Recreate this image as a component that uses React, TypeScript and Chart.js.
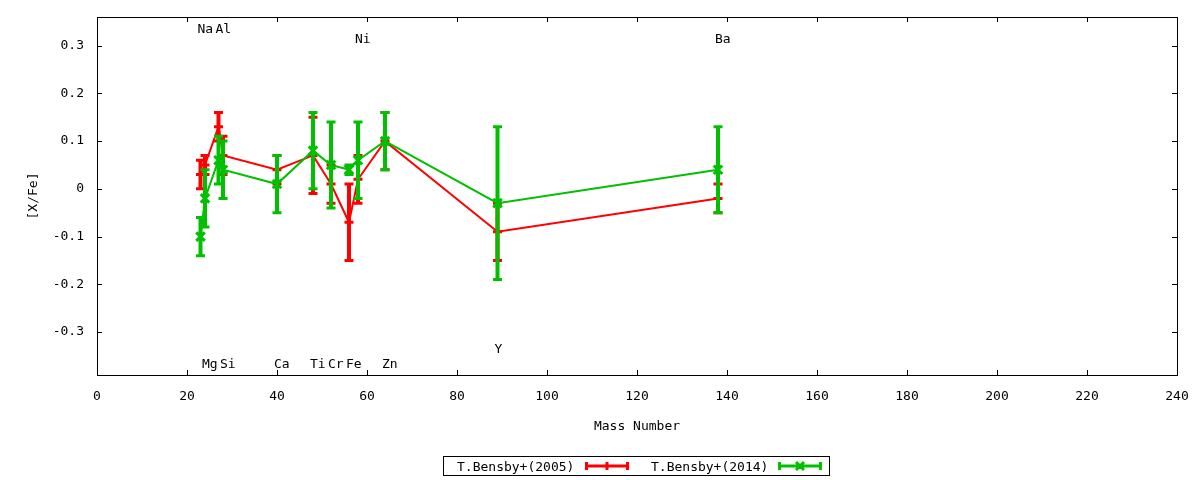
import { useEffect, useRef } from 'react'
import { Chart, registerables } from 'chart.js'

Chart.register(...registerables)

// element abundances vs mass number
const elements = ['Na', 'Mg', 'Al', 'Si', 'Ca', 'Ti', 'Cr', 'Fe', 'Ni', 'Zn', 'Y', 'Ba']
const massNumbers = [23, 24, 27, 28, 40, 48, 52, 56, 58, 64, 89, 138]
const bensby2005 = [0.03, 0.05, 0.13, 0.07, 0.04, 0.07, 0.01, -0.07, 0.02, 0.10, -0.09, -0.02]
const bensby2005Err = [0.03, 0.02, 0.03, 0.04, 0.03, 0.08, 0.04, 0.08, 0.05, 0.06, 0.06, 0.03]
const bensby2014 = [-0.10, -0.02, 0.06, 0.04, 0.01, 0.08, 0.05, 0.04, 0.06, 0.10, -0.03, 0.04]
const bensby2014Err = [0.04, 0.06, 0.05, 0.06, 0.06, 0.08, 0.09, 0.01, 0.08, 0.06, 0.16, 0.09]
// label row (in [X/Fe] units) for each element name
const labelLevels = [0.326, -0.376, 0.326, -0.376, -0.376, -0.376, -0.376, -0.376, 0.305, -0.376, -0.344, 0.305]

const xTickValues = [0, 20, 40, 60, 80, 100, 120, 140, 160, 180, 200, 220, 240]
const yTickValues = [-0.3, -0.2, -0.1, 0, 0.1, 0.2, 0.3]
const yTickLabels = ['-0.3', '-0.2', '-0.1', '0', '0.1', '0.2', '0.3']

const RED = '#ff0000'
const GREEN = '#00c000'
const FONT = '13px "DejaVu Sans Mono", monospace'

const seriesErr = [bensby2005Err, bensby2014Err]
const seriesVal = [bensby2005, bensby2014]
const seriesColor = [RED, GREEN]

function errBar(ctx: CanvasRenderingContext2D, x: number, lo: number, hi: number, color: string) {
  ctx.strokeStyle = color
  ctx.lineCap = 'butt'
  ctx.lineWidth = 4
  ctx.beginPath()
  ctx.moveTo(x, lo); ctx.lineTo(x, hi)
  ctx.stroke()
  ctx.lineWidth = 3
  ctx.beginPath()
  ctx.moveTo(x - 4.5, lo); ctx.lineTo(x + 4.5, lo)
  ctx.moveTo(x - 4.5, hi); ctx.lineTo(x + 4.5, hi)
  ctx.stroke()
}

// no extra room for tick label overflow: the frame is placed by hand
const noPad = (s: any) => { s.paddingTop = 0; s.paddingBottom = 0; s.paddingLeft = 0; s.paddingRight = 0 }

const gnuplotLook = {
  id: 'gnuplotLook',
  afterDatasetDraw(chart: any, args: any) {
    const { ctx, scales: { x, y } } = chart
    const i = args.index
    ctx.save()
    massNumbers.forEach((m, k) => {
      const v = seriesVal[i][k], e = seriesErr[i][k]
      errBar(ctx, x.getPixelForValue(m), y.getPixelForValue(v - e), y.getPixelForValue(v + e), seriesColor[i])
    })
    ctx.restore()
  },
  afterDraw(chart: any) {
    const { ctx, chartArea: a, scales: { x, y } } = chart
    ctx.save()
    // frame + inward ticks
    ctx.strokeStyle = '#000'
    ctx.lineWidth = 1
    ctx.strokeRect(a.left + 0.5, a.top + 0.5, a.right - a.left, a.bottom - a.top)
    ctx.beginPath()
    xTickValues.forEach(v => {
      const px = Math.round(x.getPixelForValue(v)) + 0.5
      ctx.moveTo(px, a.bottom); ctx.lineTo(px, a.bottom - 5)
      ctx.moveTo(px, a.top); ctx.lineTo(px, a.top + 5)
    })
    yTickValues.forEach(v => {
      const py = Math.round(y.getPixelForValue(v)) + 0.5
      ctx.moveTo(a.left, py); ctx.lineTo(a.left + 5, py)
      ctx.moveTo(a.right, py); ctx.lineTo(a.right - 5, py)
    })
    ctx.stroke()

    ctx.fillStyle = '#000'
    ctx.font = FONT
    // element names
    ctx.textAlign = 'left'
    ctx.textBaseline = 'alphabetic'
    elements.forEach((el, k) => {
      ctx.fillText(el, x.getPixelForValue(massNumbers[k]) - 3, y.getPixelForValue(labelLevels[k]))
    })
    // axis titles
    ctx.textAlign = 'center'
    ctx.fillText('Mass Number', (a.left + a.right) / 2, 430)
    ctx.save()
    ctx.translate(37, (a.top + a.bottom) / 2)
    ctx.rotate(-Math.PI / 2)
    ctx.fillText('[X/Fe]', 0, 0)
    ctx.restore()

    // legend
    ctx.strokeRect(443.5, 456.5, 386, 19)
    ctx.textAlign = 'left'
    ctx.fillText('T.Bensby+(2005)', 457, 470.5)
    ctx.fillText('T.Bensby+(2014)', 651, 470.5)
    const sample = (x1: number, x2: number, color: string, green: boolean) => {
      const yy = 466
      ctx.strokeStyle = color
      ctx.lineWidth = 3
      ctx.beginPath()
      ctx.moveTo(x1, yy); ctx.lineTo(x2, yy)
      ctx.moveTo(x1 + 1.5, yy - 4); ctx.lineTo(x1 + 1.5, yy + 4)
      ctx.moveTo(x2 - 1.5, yy - 4); ctx.lineTo(x2 - 1.5, yy + 4)
      const mx = (x1 + x2) / 2
      if (green) {
        ctx.moveTo(mx - 4, yy - 4); ctx.lineTo(mx + 4, yy + 4)
        ctx.moveTo(mx - 4, yy + 4); ctx.lineTo(mx + 4, yy - 4)
      } else {
        ctx.moveTo(mx, yy - 4); ctx.lineTo(mx, yy + 4)
      }
      ctx.stroke()
    }
    sample(585, 629, RED, false)
    sample(778, 822, GREEN, true)
    ctx.restore()
  },
}

export default function App() {
  const canvasRef = useRef<HTMLCanvasElement>(null)
  const chartRef = useRef<Chart | null>(null)

  useEffect(() => {
    if (!canvasRef.current) return
    if (chartRef.current) chartRef.current.destroy()

    const tickFont = { family: '"DejaVu Sans Mono", monospace', size: 13 }

    chartRef.current = new Chart(canvasRef.current, {
      type: 'line',
      data: {
        datasets: [
          {
            label: 'T.Bensby+(2005)',
            data: massNumbers.map((m, k) => ({ x: m, y: bensby2005[k] })),
            borderColor: RED, backgroundColor: RED, borderWidth: 2,
            pointStyle: 'cross', pointRadius: 4.5, pointBorderWidth: 3,
            tension: 0, order: 1,
          },
          {
            label: 'T.Bensby+(2014)',
            data: massNumbers.map((m, k) => ({ x: m, y: bensby2014[k] })),
            borderColor: GREEN, backgroundColor: GREEN, borderWidth: 2,
            pointStyle: 'crossRot', pointRadius: 6, pointBorderWidth: 3,
            tension: 0, order: 0,
          },
        ],
      },
      options: {
        animation: false,
        responsive: true,
        maintainAspectRatio: false,
        layout: { autoPadding: false, padding: { top: 17, right: 23, left: 0, bottom: 0 } },
        plugins: { legend: { display: false }, tooltip: { enabled: false } },
        scales: {
          x: {
            type: 'linear', min: 0, max: 240,
            afterFit: (s: any) => { s.height = 105; noPad(s) },
            afterBuildTicks: (s: any) => { s.ticks = xTickValues.map(v => ({ value: v })) },
            grid: { display: false, drawTicks: false },
            border: { display: false },
            ticks: { color: '#000', font: tickFont, padding: 14, maxRotation: 0, autoSkip: false, callback: (v: any) => String(v) },
          },
          y: {
            type: 'linear', min: -0.39, max: 0.36,
            afterFit: (s: any) => { s.width = 97; noPad(s) },
            afterBuildTicks: (s: any) => { s.ticks = yTickValues.map(v => ({ value: v })) },
            grid: { display: false, drawTicks: false },
            border: { display: false },
            ticks: { color: '#000', font: tickFont, padding: 13, autoSkip: false, callback: (_v: any, i: number) => yTickLabels[i] },
          },
        },
      },
      plugins: [gnuplotLook],
    })

    return () => { chartRef.current?.destroy() }
  }, [])

  return (
    <div style={{ position: 'absolute', left: 0, top: 0, width: 1200, height: 480, background: '#fff' }}>
      <canvas ref={canvasRef} />
    </div>
  )
}
